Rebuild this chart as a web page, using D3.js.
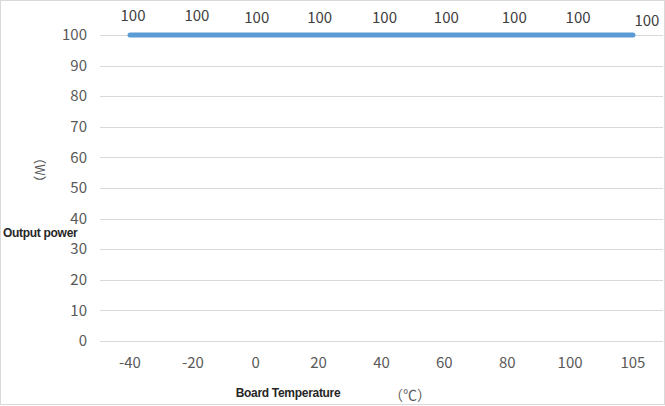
<!DOCTYPE html>
<html>
<head>
<meta charset="utf-8">
<script src="https://cdn.jsdelivr.net/npm/d3@7"></script>
<style>
  html, body { margin: 0; padding: 0; background: #fff; }
  svg { display: block; }
</style>
</head>
<body>
<svg id="chart" width="665" height="406"></svg>
<script>
// board temperature categories (deg C) and output power (W)
var temps = ['-40', '-20', '0', '20', '40', '60', '80', '100', '105'];
var power = [100, 100, 100, 100, 100, 100, 100, 100, 100];
var yTicks = [0, 10, 20, 30, 40, 50, 60, 70, 80, 90, 100];

// little nudges of the data labels, as placed in the original
var labelDx = [3, 4, 1, 1, 3, 2, 7, 8, 14];
var labelDy = [0, 0, 2, 2, 2, 2, 2, 2, 5];

var svg = d3.select('#chart');
var numFont = '"Noto Sans CJK SC", "Noto Sans", sans-serif';
var grey = '#595959';

var x = d3.scalePoint().domain(temps).range([98.6, 664.4]).padding(0.5);
var y = d3.scaleLinear().domain([0, 100]).range([341, 35]);

// frame
svg.append('rect')
  .attr('x', 0.5).attr('y', 0.5)
  .attr('width', 664).attr('height', 404)
  .attr('fill', 'none').attr('stroke', '#d9d9d9');

// grid
svg.append('g').selectAll('line')
  .data(yTicks)
  .enter().append('line')
  .attr('x1', 100).attr('x2', 663)
  .attr('y1', function(d) { return Math.round(y(d)) + 0.5; })
  .attr('y2', function(d) { return Math.round(y(d)) + 0.5; })
  .attr('stroke', '#d9d9d9').attr('stroke-width', 1);

// y tick labels
svg.append('g').selectAll('text')
  .data(yTicks)
  .enter().append('text')
  .attr('x', 87).attr('y', function(d) { return y(d); })
  .attr('dy', '0.35em')
  .attr('text-anchor', 'end')
  .style('font-family', numFont).style('font-size', '15px').attr('fill', grey)
  .text(function(d) { return d; });

// x tick labels
svg.append('g').selectAll('text')
  .data(temps)
  .enter().append('text')
  .attr('x', function(d) { return x(d); }).attr('y', 363)
  .attr('dy', '0.35em')
  .attr('text-anchor', 'middle')
  .style('font-family', numFont).style('font-size', '15px').attr('fill', grey)
  .text(function(d) { return d; });

// the series line
var line = d3.line()
  .x(function(d, i) { return x(temps[i]); })
  .y(function(d) { return y(d); });

svg.append('path')
  .datum(power)
  .attr('d', line)
  .attr('fill', 'none')
  .attr('stroke', '#5b9bd5')
  .attr('stroke-width', 5)
  .attr('stroke-linecap', 'round')
  .attr('stroke-linejoin', 'round');

// data labels
svg.append('g').selectAll('text')
  .data(power)
  .enter().append('text')
  .attr('x', function(d, i) { return x(temps[i]) + labelDx[i]; })
  .attr('y', function(d, i) { return y(d) - 19 + labelDy[i]; })
  .attr('dy', '0.35em')
  .attr('text-anchor', 'middle')
  .style('font-family', numFont).style('font-size', '15px').attr('fill', '#404040')
  .text(function(d) { return d; });

// axis titles
svg.append('text')
  .attr('x', 288).attr('y', 393).attr('dy', '0.35em')
  .attr('text-anchor', 'middle')
  .style('font-family', '"Liberation Sans", Arial, sans-serif')
  .style('font-size', '12px').style('font-weight', 'bold')
  .style('letter-spacing', '-0.3px')
  .attr('fill', '#262626')
  .text('Board Temperature');

svg.append('text')
  .attr('x', 410).attr('y', 395).attr('dy', '0.35em')
  .attr('text-anchor', 'middle')
  .style('font-family', numFont).style('font-size', '14px')
  .attr('fill', grey)
  .text('（℃）');

svg.append('text')
  .attr('x', 3).attr('y', 233).attr('dy', '0.35em')
  .style('font-family', '"Liberation Sans", Arial, sans-serif')
  .style('font-size', '12px').style('font-weight', 'bold')
  .style('letter-spacing', '-0.3px')
  .attr('fill', '#262626')
  .text('Output power');

svg.append('text')
  .attr('transform', 'translate(40,170) rotate(90)')
  .attr('dy', '0.35em')
  .attr('text-anchor', 'middle')
  .style('font-family', numFont).style('font-size', '13px')
  .attr('fill', grey)
  .text('（W）');
</script>
</body>
</html>
